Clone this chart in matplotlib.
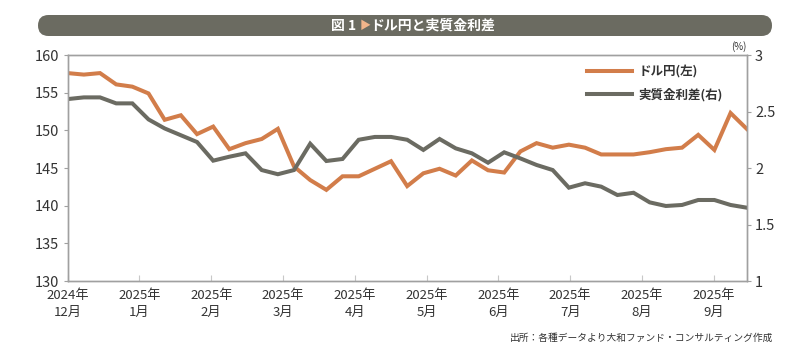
#!/usr/bin/env python3
"""usd/jpy vs real interest rate differential, weekly"""

import matplotlib

matplotlib.use("Agg")
import matplotlib.pyplot as plt
import numpy as np
from matplotlib.patches import FancyBboxPatch

plt.rcParams["font.family"] = ["Noto Sans CJK JP", "DejaVu Sans"]

# weekly observations, Dec 2024 - Sep 2025
usdjpy = [
    157.6, 157.4, 157.6, 156.1, 155.8, 154.9, 151.4, 152.0, 149.5, 150.5,
    147.5, 148.3, 148.85, 150.2, 145.2, 143.4, 142.1, 143.9, 143.9, 144.9,
    145.9, 142.6, 144.3, 144.9, 144.0, 146.0, 144.7, 144.4, 147.2, 148.3,
    147.7, 148.1, 147.7, 146.8, 146.8, 146.8, 147.1, 147.5, 147.7, 149.4,
    147.4, 152.3, 150.2,
]
real_rate_diff = [
    2.61, 2.625, 2.625, 2.572, 2.572, 2.43, 2.35, 2.29, 2.23, 2.065,
    2.10, 2.13, 1.982, 1.945, 1.982, 2.215, 2.062, 2.08, 2.25, 2.275,
    2.275, 2.25, 2.16, 2.257, 2.174, 2.13, 2.047, 2.139, 2.085, 2.027,
    1.982, 1.826, 1.865, 1.835, 1.761, 1.781, 1.696, 1.664, 1.673, 1.717,
    1.717, 1.673, 1.649,
]
month_labels = [
    "2024年\n12月", "2025年\n1月", "2025年\n2月", "2025年\n3月", "2025年\n4月",
    "2025年\n5月", "2025年\n6月", "2025年\n7月", "2025年\n8月", "2025年\n9月",
]
left_ticks = [130, 135, 140, 145, 150, 155, 160]
right_ticks = [1, 1.5, 2, 2.5, 3]
right_tick_labels = ["1", "1.5", "2", "2.5", "3"]

ORANGE = "#d27d4a"
GREY = "#6b6b62"
FRAME = "#a0a0a0"
TEXT = "#333333"


def draw_banner(fig):
    # an overlay axes in pixel units so the rounded ends stay round
    bax = fig.add_axes([0, 0, 1, 1], zorder=-1)
    bax.set_xlim(0, 800)
    bax.set_ylim(360, 0)
    bax.axis("off")
    bax.add_patch(FancyBboxPatch((38, 15), 734, 21,
                                 boxstyle="round,pad=0,rounding_size=10.5",
                                 fc="#6b6b61", ec="none"))
    t1 = bax.text(331, 26, "図 1 ", color="white", fontsize=10,
                  fontweight="bold", va="center", ha="left")
    t2 = bax.annotate("▶", xy=(1, 0.5), xycoords=t1, color="#f2b48a",
                      fontsize=8, va="center", ha="left")
    bax.annotate("ドル円と実質金利差", xy=(1, 0.5), xycoords=t2, color="white",
                 fontsize=10, fontweight="bold", va="center", ha="left")


def plot(ax, ax2):
    x = np.arange(len(usdjpy))
    l1, = ax.plot(x, usdjpy, color=ORANGE, lw=2.9, solid_joinstyle="miter",
                  label="ドル円(左)")
    l2, = ax2.plot(x, real_rate_diff, color=GREY, lw=2.9,
                   solid_joinstyle="miter", label="実質金利差(右)")

    ax.set_xlim(0, len(usdjpy) - 1)
    ax.set_ylim(130, 160)
    ax2.set_ylim(1, 3)

    tick_pos = np.arange(len(month_labels)) * 4.44
    ax.set_xticks(tick_pos)
    ax.set_xticklabels(month_labels, fontsize=9.5, color=TEXT, linespacing=1.35)
    ax.tick_params(axis="x", direction="in", length=4, color="#c8c8c8", pad=6)

    ax.set_yticks(left_ticks)
    ax.set_yticklabels([str(v) for v in left_ticks], fontsize=10.5, color=TEXT)
    ax.tick_params(axis="y", direction="out", length=3, color=FRAME, pad=3)
    ax2.set_yticks(right_ticks)
    ax2.set_yticklabels(right_tick_labels, fontsize=10.5, color=TEXT)
    ax2.tick_params(axis="y", direction="out", length=3, color=FRAME, pad=3)

    for a in (ax, ax2):
        for s in a.spines.values():
            s.set_color(FRAME)
            s.set_linewidth(1.0)

    ax2.text(1.0, 1.015, "(%)", transform=ax2.transAxes, fontsize=7,
             color=TEXT, ha="right", va="bottom")

    leg = ax2.legend(handles=[l1, l2], loc="upper right",
                     bbox_to_anchor=(0.965, 0.955), frameon=False,
                     borderpad=0, borderaxespad=0,
                     handlelength=3.6, handletextpad=0.5, labelspacing=0.75,
                     prop={"size": 9, "weight": "bold"})
    for t in leg.get_texts():
        t.set_color(TEXT)


def main():
    fig = plt.figure(figsize=(8, 3.6), dpi=100)
    draw_banner(fig)
    ax = fig.add_axes([0.0846, 0.2194, 0.8488, 0.6278])
    ax2 = ax.twinx()
    plot(ax, ax2)
    fig.text(0.966, 0.062, "出所：各種データより大和ファンド・コンサルティング作成",
             fontsize=7, color=TEXT, ha="right", va="center")
    fig.savefig("out.png", dpi=100)


if __name__ == "__main__":
    main()
